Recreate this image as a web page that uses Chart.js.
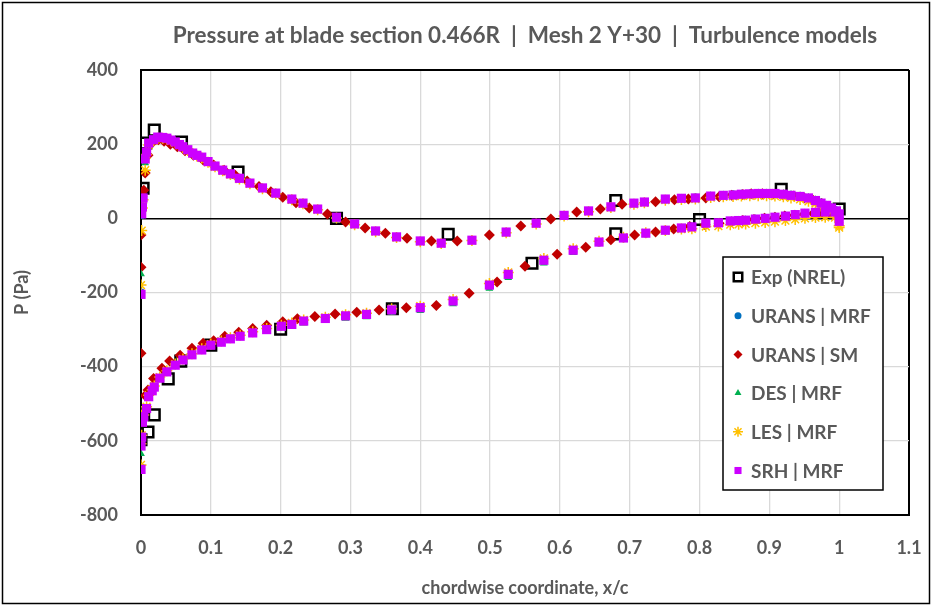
<!DOCTYPE html>
<html>
<head>
<meta charset="utf-8">
<title>Pressure at blade section 0.466R</title>
<script src="https://cdn.jsdelivr.net/npm/chart.js@4.4.0/dist/chart.umd.min.js"></script>
<style>
  html, body { margin: 0; padding: 0; background: #fff; }
  #wrap { width: 932px; height: 606px; }
</style>
</head>
<body>
<div id="wrap"><canvas id="pressure-chart" width="932" height="606"></canvas></div>
<script>
// chordwise positions, x/c (upper surface first, then lower surface)
var xExp = [0.003, 0.007, 0.019, 0.058, 0.139, 0.28, 0.44, 0.68, 0.917, 1.0,
            0, 0.01, 0.019, 0.039, 0.057, 0.1, 0.2, 0.36, 0.56, 0.68, 0.8];
var pExp = [81, 203, 238, 206, 125, 0, -43, 48, 78, 25,
            -597, -576, -530, -433, -385, -342, -299, -244, -121, -42, -3];

// shared sampling points of the MRF runs
var xMrf = [
  // upper
  0, 0.001, 0.002, 0.003, 0.006, 0.008, 0.011, 0.018, 0.024, 0.031,
  0.037, 0.043, 0.049, 0.055, 0.060, 0.067, 0.074, 0.080, 0.087, 0.096,
  0.106, 0.117, 0.128, 0.141, 0.156, 0.174, 0.193, 0.216, 0.232, 0.253,
  0.280, 0.306, 0.336, 0.366, 0.400, 0.430, 0.474, 0.523, 0.566, 0.606,
  0.641, 0.673, 0.706, 0.721, 0.751, 0.774, 0.794, 0.816, 0.834, 0.848,
  0.860, 0.872, 0.884, 0.896, 0.908, 0.920, 0.931, 0.944, 0.956, 0.966,
  0.974, 0.982, 0.989, 0.996, 1.000,
  // lower
  0, 0, 0.001, 0.002, 0.004, 0.008, 0.011, 0.016, 0.019, 0.027,
  0.037, 0.049, 0.060, 0.073, 0.087, 0.100, 0.115, 0.128, 0.142, 0.160,
  0.180, 0.201, 0.216, 0.233, 0.264, 0.293, 0.323, 0.359, 0.400, 0.447,
  0.499, 0.526, 0.577, 0.619, 0.656, 0.691, 0.723, 0.751, 0.774, 0.789,
  0.809, 0.827, 0.844, 0.856, 0.866, 0.880, 0.894, 0.908, 0.923, 0.937,
  0.951, 0.966, 0.980, 0.994, 1.000
];

var pUransMrf = [
  -200, 9, 30, 54, 158, 178, 202, 211, 218, 217,
  215, 210, 205, 198, 192, 184, 176, 169, 164, 152,
  140, 129, 119, 107, 94, 81, 67, 51, 40, 24,
  2, -16, -35, -51, -62, -67, -59, -38, -14, 7,
  19, 30, 40, 44, 51, 54, 56, 60, 62, 64,
  65, 66, 67, 67, 66, 65, 63, 60, 55, 49,
  42, 35, 28, 21, 14,
  -672, -612, -588, -548, -533, -511, -479, -464, -454, -430,
  -413, -395, -381, -367, -354, -341, -333, -325, -317, -308,
  -299, -291, -285, -277, -270, -264, -260, -249, -243, -225,
  -182, -153, -115, -88, -65, -54, -41, -33, -27, -23,
  -14, -12, -8, -6, -5, -2, 0, 3, 6, 10,
  13, 16, 17, 17, 10
];

var pDesMrf = [
  -150, 9, 29, 53, 149, 176, 201, 211, 218, 217,
  215, 210, 205, 198, 192, 184, 175, 169, 163, 152,
  140, 129, 119, 107, 94, 81, 67, 51, 40, 24,
  2, -16, -35, -51, -62, -68, -60, -38, -14, 7,
  19, 30, 40, 44, 51, 54, 56, 61, 63, 64,
  66, 67, 68, 68, 67, 66, 64, 61, 56, 50,
  43, 36, 29, 22, 15,
  -678, -635, -595, -552, -536, -515, -484, -468, -458, -434,
  -417, -399, -385, -371, -358, -345, -337, -329, -322, -313,
  -304, -296, -291, -283, -276, -270, -266, -254, -249, -231,
  -189, -160, -121, -93, -68, -56, -42, -34, -27, -23,
  -14, -12, -7, -5, -4, -1, 1, 4, 7, 11,
  14, 17, 18, 18, 12
];

var pLesMrf = [
  -180, -33, 28, 50, 130, 172, 198, 209, 216, 216,
  214, 209, 204, 197, 191, 183, 175, 168, 163, 151,
  139, 128, 118, 106, 93, 80, 66, 50, 39, 23,
  1, -17, -36, -52, -63, -68, -60, -39, -15, 6,
  18, 29, 38, 42, 49, 51, 52, 56, 58, 59,
  60, 61, 61, 61, 60, 58, 55, 51, 46, 40,
  33, 26, 18, 8, -25,
  -665, -608, -585, -522, -530, -508, -477, -462, -452, -428,
  -411, -393, -379, -365, -352, -339, -331, -322, -315, -306,
  -297, -288, -282, -274, -267, -260, -256, -244, -237, -219,
  -176, -146, -108, -82, -62, -51, -39, -33, -29, -28,
  -22, -21, -17, -16, -15, -13, -11, -9, -6, -3,
  0, 2, 3, 2, -20
];

var pSrhMrf = [
  -205, 12, 31, 55, 160, 179, 203, 212, 219, 218,
  216, 211, 206, 199, 193, 185, 176, 170, 165, 153,
  141, 130, 120, 108, 95, 82, 68, 52, 41, 25,
  3, -15, -34, -50, -61, -67, -59, -37, -13, 8,
  20, 31, 41, 44, 52, 54, 55, 60, 62, 63,
  65, 66, 67, 67, 67, 65, 62, 59, 55, 48,
  41, 35, 28, 20, 12,
  -677, -614, -590, -550, -535, -513, -481, -465, -455, -431,
  -414, -396, -382, -368, -355, -342, -334, -325, -318, -309,
  -300, -291, -286, -277, -270, -263, -259, -247, -241, -223,
  -180, -151, -113, -86, -64, -53, -40, -32, -26, -23,
  -13, -12, -7, -6, -5, -2, 0, 3, 6, 10,
  14, 16, 17, 17, -8
];

// sliding mesh run has its own sampling points
var xSm = [
  0, 0, 0.004, 0.006, 0.010, 0.017, 0.025, 0.033, 0.042, 0.052,
  0.063, 0.075, 0.089, 0.104, 0.119, 0.135, 0.152, 0.169, 0.186, 0.203,
  0.222, 0.241, 0.267, 0.293, 0.321, 0.350, 0.381, 0.416, 0.453, 0.499,
  0.544, 0.587, 0.624, 0.658, 0.689, 0.737, 0.764, 0.784, 0.809, 0.828,
  0.846, 0.862, 0.874, 0.890, 0.905, 0.920, 0.935, 0.950, 0.963, 0.975,
  0.986, 0.995,
  0, 0.006, 0.010, 0.018, 0.030, 0.041, 0.056, 0.073, 0.089, 0.104,
  0.120, 0.140, 0.160, 0.180, 0.203, 0.224, 0.249, 0.278, 0.309, 0.341,
  0.380, 0.423, 0.470, 0.510, 0.550, 0.596, 0.637, 0.673, 0.707, 0.737,
  0.763, 0.786, 0.808, 0.828, 0.846, 0.862, 0.878, 0.893, 0.908, 0.922,
  0.936, 0.950, 0.963, 0.975, 0.986, 0.995
];
var pSm = [
  -132, -45, 76, 122, 170, 206, 212, 208, 200, 193,
  182, 170, 157, 144, 130, 116, 101, 86, 72, 57,
  42, 28, 12, -10, -26, -40, -54, -61, -61, -45,
  -21, -2, 17, 25, 38, 45, 50, 52, 55, 58,
  62, 64, 66, 66, 65, 63, 60, 55, 48, 40,
  30, 18,
  -364, -478, -463, -432, -404, -385, -369, -350, -337, -330,
  -318, -307, -297, -288, -279, -271, -265, -258, -253, -247,
  -241, -235, -202, -172, -129, -97, -78, -58, -45, -37,
  -29, -22, -17, -13, -9, -6, -3, 0, 3, 6,
  8, 11, 13, 15, 16, 16
];

var seriesNames = ["Exp (NREL)", "URANS | MRF", "URANS | SM", "DES | MRF", "LES | MRF", "SRH | MRF"];
var xTicks = [0, 0.1, 0.2, 0.3, 0.4, 0.5, 0.6, 0.7, 0.8, 0.9, 1, 1.1];
var yTicks = [-800, -600, -400, -200, 0, 200, 400];

function toPoints(xs, ps) {
    return xs.map(function (x, i) { return {x: x, y: ps[i]}; });
}

var textGrey = '#595959';
var gridGrey = '#d9d9d9';
var fontFamily = 'Lato, "Open Sans", sans-serif';

// white background and the outer chart frame
var framePlugin = {
    id: 'frame',
    beforeDraw: function (chart) {
        var c = chart.ctx;
        c.save();
        c.fillStyle = '#fff';
        c.fillRect(0, 0, chart.width, chart.height);
        c.strokeStyle = '#000';
        c.lineWidth = 1.5;
        c.strokeRect(2.5, 2.5, chart.width - 5, chart.height - 5);
        c.restore();
    }
};

// boxed legend inside the plot, like the Excel one
var legendRadius = [6, 3.5, 4.5, 4, 5, 5];
var boxLegendPlugin = {
    id: 'boxLegend',
    afterDraw: function (chart) {
        var c = chart.ctx;
        var left = 723, top = 257, w = 160, h = 233;
        c.save();
        c.fillStyle = '#fff';
        c.fillRect(left, top, w, h);
        c.strokeStyle = '#000';
        c.lineWidth = 1.5;
        c.strokeRect(left, top, w, h);
        chart.data.datasets.forEach(function (ds, i) {
            var y = top + 20 + i * 38.7;
            c.fillStyle = ds.backgroundColor;
            c.strokeStyle = ds.borderColor;
            c.lineWidth = ds.borderWidth;
            Chart.helpers.drawPoint(c, {
                pointStyle: ds.pointStyle,
                radius: legendRadius[i],
                rotation: 0,
                borderWidth: ds.borderWidth
            }, left + 15, y);
            c.fillStyle = textGrey;
            c.font = 'bold 19px ' + fontFamily;
            c.textBaseline = 'middle';
            c.textAlign = 'left';
            c.fillText(ds.label, left + 28, y + 1);
        });
        c.restore();
    }
};

var chartData = {
    datasets: [{
        label: seriesNames[0],
        data: toPoints(xExp, pExp),
        pointStyle: 'rect',
        pointRadius: 7.5,
        backgroundColor: 'rgba(0,0,0,0)',
        borderColor: '#000',
        borderWidth: 2.5,
        order: 5
    }, {
        label: seriesNames[1],
        data: toPoints(xMrf, pUransMrf),
        pointStyle: 'circle',
        pointRadius: 4,
        backgroundColor: '#0070C0',
        borderColor: '#0070C0',
        borderWidth: 0,
        order: 4
    }, {
        label: seriesNames[2],
        data: toPoints(xSm, pSm),
        pointStyle: 'rectRot',
        pointRadius: 5.5,
        backgroundColor: '#C00000',
        borderColor: '#C00000',
        borderWidth: 0,
        order: 3
    }, {
        label: seriesNames[3],
        data: toPoints(xMrf, pDesMrf),
        pointStyle: 'triangle',
        pointRadius: 4.5,
        backgroundColor: '#00B050',
        borderColor: '#00B050',
        borderWidth: 0,
        order: 2
    }, {
        label: seriesNames[4],
        data: toPoints(xMrf, pLesMrf),
        pointStyle: 'star',
        pointRadius: 5.5,
        backgroundColor: '#FFC000',
        borderColor: '#FFC000',
        borderWidth: 1.5,
        order: 1
    }, {
        label: seriesNames[5],
        data: toPoints(xMrf, pSrhMrf),
        pointStyle: 'rect',
        pointRadius: 6.5,
        backgroundColor: '#CC00FF',
        borderColor: '#CC00FF',
        borderWidth: 0,
        order: 0
    }]
};

var tickFont = {family: fontFamily, size: 18, weight: 'bold'};

var chartOptions = {
    responsive: false,
    animation: false,
    layout: {padding: {left: 0, right: 23, top: 0, bottom: 0}},
    plugins: {
        legend: {display: false},
        tooltip: {enabled: false},
        title: {
            display: true,
            text: 'Pressure at blade section 0.466R  |  Mesh 2 Y+30  |  Turbulence models',
            color: textGrey,
            fullSize: false,
            font: {family: fontFamily, size: 22.5, weight: 'bold', lineHeight: 1.2},
            padding: {top: 22, bottom: 21}
        }
    },
    scales: {
        x: {
            type: 'linear',
            min: 0,
            max: 1.1,
            afterFit: function (scale) {
                scale.height = 91;
                // tick padding is meant vertically only, keep the plot edge at 1.1
                scale.paddingLeft = 0;
                scale.paddingRight = 0;
            },
            afterBuildTicks: function (scale) {
                scale.ticks = xTicks.map(function (v) { return {value: v}; });
            },
            ticks: {
                color: textGrey,
                font: tickFont,
                padding: 22,
                maxRotation: 0,
                callback: function (v) { return String(Math.round(v * 10) / 10); }
            },
            grid: {
                drawTicks: false,
                color: function (ctx) {
                    var v = ctx.tick ? ctx.tick.value : null;
                    return (v === 0 || v === 1.1) ? '#000' : gridGrey;
                },
                lineWidth: function (ctx) {
                    var v = ctx.tick ? ctx.tick.value : null;
                    return (v === 0 || v === 1.1) ? 2 : 1.3;
                }
            },
            border: {display: true, color: '#000', width: 2},
            title: {
                display: true,
                text: 'chordwise coordinate, x/c',
                color: textGrey,
                font: {family: fontFamily, size: 18, weight: 'bold', lineHeight: 1.2},
                padding: {top: 0, bottom: 7}
            }
        },
        y: {
            type: 'linear',
            min: -800,
            max: 400,
            afterFit: function (scale) { scale.width = 141; },
            afterBuildTicks: function (scale) {
                scale.ticks = yTicks.map(function (v) { return {value: v}; });
            },
            ticks: {
                color: textGrey,
                font: tickFont,
                padding: 23
            },
            grid: {
                drawTicks: false,
                color: function (ctx) {
                    var v = ctx.tick ? ctx.tick.value : null;
                    return (v === 0 || v === 400 || v === -800) ? '#000' : gridGrey;
                },
                lineWidth: function (ctx) {
                    var v = ctx.tick ? ctx.tick.value : null;
                    if (v === 400 || v === -800) return 2;
                    return v === 0 ? 1.5 : 1.3;
                }
            },
            border: {display: true, color: '#000', width: 2},
            title: {
                display: true,
                text: 'P (Pa)',
                color: textGrey,
                font: {family: fontFamily, size: 18, weight: 'bold', lineHeight: 1.2},
                padding: {top: 11, bottom: 0}
            }
        }
    }
};

var ctx = document.getElementById('pressure-chart');
var pressureChart = new Chart(ctx, {
    type: 'scatter',
    data: chartData,
    options: chartOptions,
    plugins: [framePlugin, boxLegendPlugin]
});
</script>
</body>
</html>
